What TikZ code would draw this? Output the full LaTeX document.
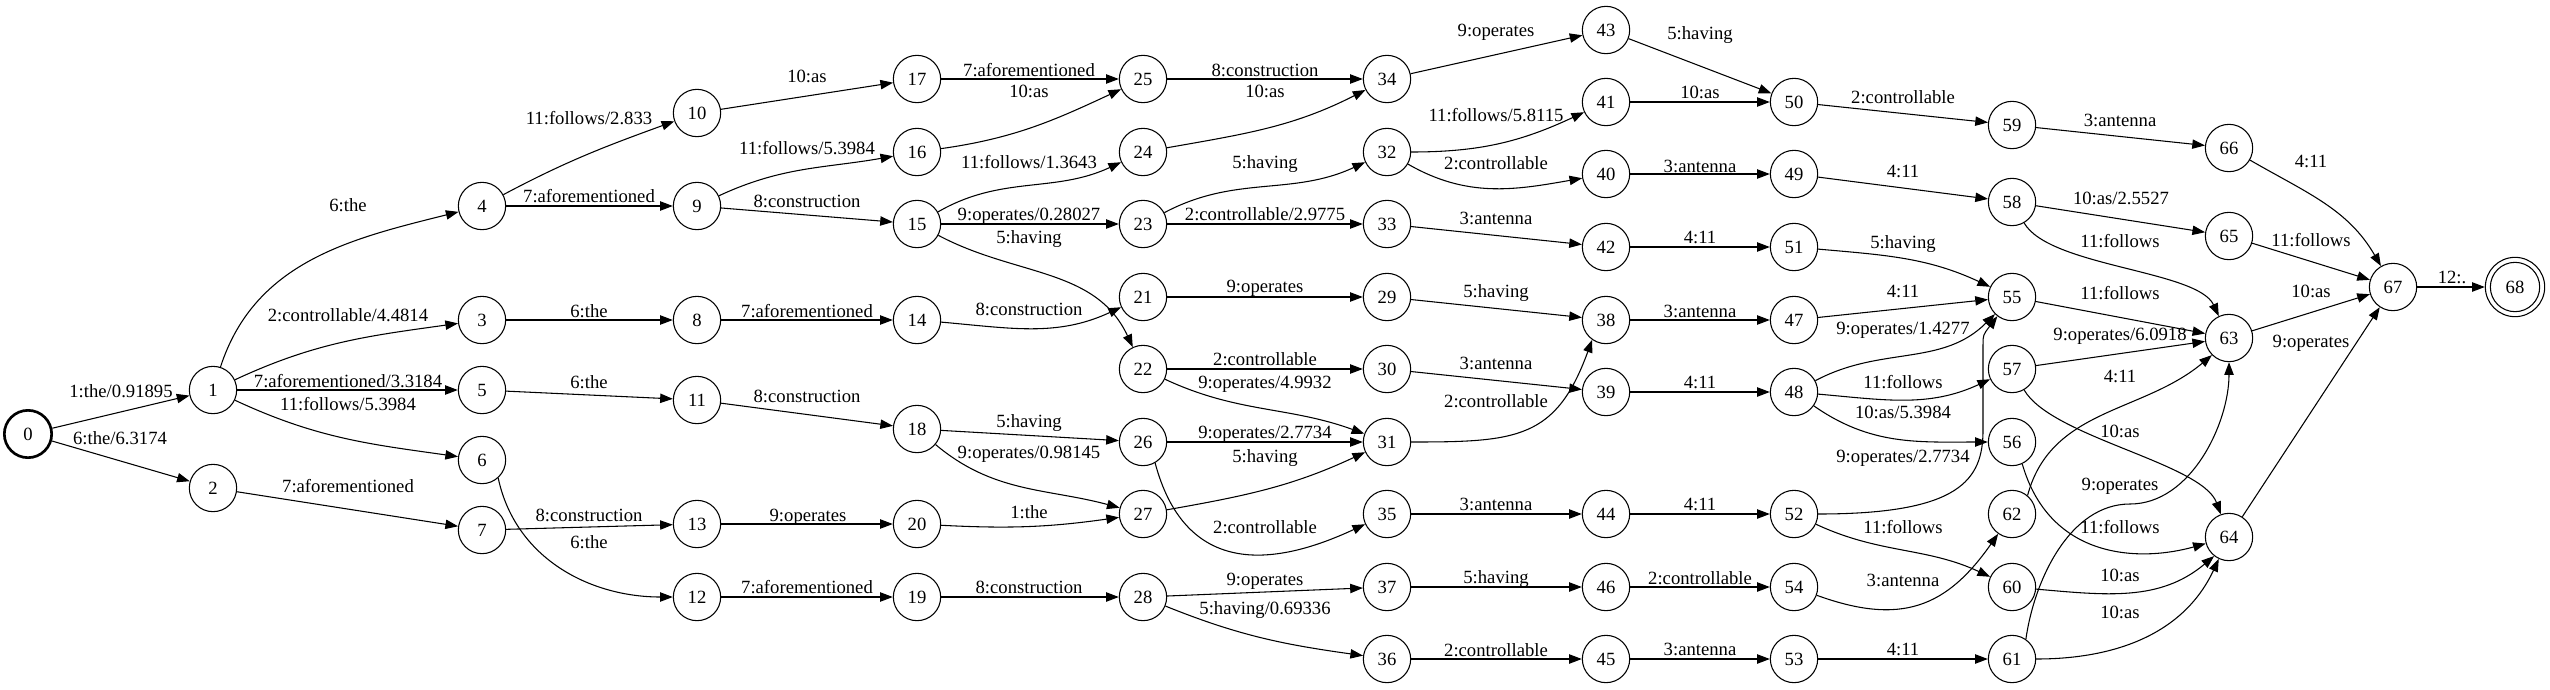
\documentclass[tikz,border=0pt]{standalone}
\usepackage{fontspec}
\setmainfont{Liberation Serif}
\usetikzlibrary{arrows.meta}
\newcommand\fs{\fontsize{14pt}{16pt}\selectfont}
\begin{document}
\begin{tikzpicture}[x=0.75pt,y=-0.75pt,
  st/.style={circle,draw,line width=0.8pt,minimum size=35.5pt,inner sep=0pt,font=\fs},
  ar/.style={-{Triangle[length=9.5pt,width=7pt]},line width=0.8pt},
  lab/.style={anchor=base,inner sep=0pt,font=\fs}]
\fill[white] (0,0) rectangle (2550,689);
\useasboundingbox (0,0) rectangle (2550,689);
% states
\foreach \n/\x/\y in {1/213/390,2/213/488,3/482/320,4/482/206,5/482/390,6/482/460,7/482/530,
  8/697/320,9/697/206,10/697/113,11/697/400,12/697/597,13/697/524,
  14/917/320,15/917/224,16/917/152,17/917/79,18/917/429,19/917/597,20/917/524,
  21/1143/297,22/1143/369,23/1143/224,24/1143/152,25/1143/79,26/1143/442,27/1143/514,28/1143/597,
  29/1387/297,30/1387/369,31/1387/442,32/1387/152,33/1387/224,34/1387/79,35/1387/514,36/1387/659,37/1387/587,
  38/1606/320,39/1606/392,40/1606/174,41/1606/102,42/1606/247,43/1606/30,44/1606/514,45/1606/659,46/1606/587,
  47/1794/320,48/1794/392,49/1794/174,50/1794/102,51/1794/247,52/1794/514,53/1794/659,54/1794/587,
  55/2012/297,56/2012/442,57/2012/369,58/2012/202,59/2012/125,60/2012/587,61/2012/659,62/2012/514,
  63/2229/338,64/2229/537,65/2229/236,66/2229/148,67/2393/287}
  \node[st] (n\n) at (\x,\y) {\n};
\node[st,line width=2pt] (n0) at (28,434) {0};
\node[st,minimum size=44.5pt] (n68) at (2515,287) {68};
\draw[line width=0.8pt] (n68.center) circle[radius=18.5pt];
% straight arcs
\foreach \a/\b in {0/1,0/2,1/5,2/7,4/9,3/8,5/11,7/13,10/17,9/15,8/14,11/18,13/20,12/19,
  17/25,15/23,18/26,19/28,25/34,23/33,21/29,22/30,26/31,28/37,
  34/43,33/42,29/38,30/39,35/44,37/46,36/45,
  43/50,41/50,40/49,42/51,38/47,39/48,44/52,46/54,45/53,
  50/59,49/58,47/55,53/61,59/66,58/65,55/63,57/63,65/67,63/67,64/67,67/68}
  \draw[ar] (n\a) -- (n\b);
% curved arcs
\draw[ar] (n1) to[out=72,in=194] (n4);
\draw[ar] (n1) to[out=25,in=188] (n3);
\draw[ar] (n1) to[out=-25,in=172] (n6);
\draw[ar] (n4) to[out=28,in=200] (n10);
\draw[ar] (n6.-48) to[out=-78,in=180] (n12);
\draw[ar] (n9) to[out=25,in=190] (n16);
\draw[ar] (n16) to[out=8,in=205] (n25);
\draw[ar] (n15) to[out=30,in=205] (n24);
\draw[ar] (n15) to[out=-28,in=115] (n22);
\draw[ar] (n14) to[out=-5,in=205] (n21);
\draw[ar] (n18) to[out=-40,in=165] (n27);
\draw[ar] (n20) to[out=-3,in=188] (n27);
\draw[ar] (n24) to[out=10,in=207] (n34);
\draw[ar] (n23) to[out=28,in=205] (n32);
\draw[ar] (n22) to[out=-25,in=160] (n31);
\draw[ar] (n26.-60) to[out=-75,in=205,looseness=1.3] (n35);
\draw[ar] (n27) to[out=10,in=205] (n31);
\draw[ar] (n28) to[out=-22,in=172] (n36);
\draw[ar] (n32) to[out=0,in=205] (n41);
\draw[ar] (n32) to[out=-30,in=190] (n40);
\draw[ar] (n31) to[out=0,in=-110,looseness=1.3] (n38.-125);
\draw[ar] (n51) to[out=-5,in=155] (n55);
\draw[ar] (n48) to[out=28,in=-135] (n55);
\draw[ar] (n48) to[out=-5,in=205] (n57);
\draw[ar] (n48) to[out=-35,in=180] (n56);
\draw[ar] (n52) .. controls (1960,514) and (1983,480) .. (1983,430) -- (1983,345) .. controls (1983,335) .. (n55);
\draw[ar] (n52) to[out=-25,in=155] (n60);
\draw[ar] (n54) to[out=-20,in=-125,looseness=1.2] (n62);
\draw[ar] (n58) to[out=-60,in=115,looseness=0.6] (n63);
\draw[ar] (n57) to[out=-60,in=110,looseness=0.6] (n64);
\draw[ar] (n62.50) to[out=75,in=-140] (n63.-135);
\draw[ar] (n61.55) to[out=82,in=180,looseness=0.9] (2130,504) to[out=0,in=-90,looseness=0.9] (n63);
\draw[ar] (n61) to[out=0,in=-115] (n64);
\draw[ar] (n60) to[out=-5,in=-140] (n64.-128);
\draw[ar] (n56.-65) .. controls (2050,560) and (2140,562) .. (n64);
\draw[ar] (n66) to[out=-30,in=120] (n67);
% arc labels
\foreach \i/\x/\y/\t in {
  1/121/397/{1:the/0.91895},2/120/444/{6:the/6.3174},3/348/211/{6:the},
  4/348/321/{2:controllable/4.4814},5/348/387/{7:aforementioned/3.3184},
  6/348/410/{11:follows/5.3984},7/348/492/{7:aforementioned},
  8/589/124/{11:follows/2.833},9/589/202/{7:aforementioned},10/589/317/{6:the},
  11/589/388/{6:the},12/589/521/{8:construction},13/589/548/{6:the},
  14/807/82/{10:as},15/807/154/{11:follows/5.3984},16/807/207/{8:construction},
  17/807/317/{7:aforementioned},18/807/402/{8:construction},19/808/521/{9:operates},
  20/807/593/{7:aforementioned},
  21/1029/76/{7:aforementioned},22/1029/97/{10:as},23/1029/168/{11:follows/1.3643},
  24/1029/220/{9:operates/0.28027},25/1029/243/{5:having},26/1029/315/{8:construction},
  27/1029/427/{5:having},28/1029/458/{9:operates/0.98145},29/1029/518/{1:the},
  30/1029/593/{8:construction},
  31/1265/76/{8:construction},32/1265/97/{10:as},33/1265/168/{5:having},
  34/1265/220/{2:controllable/2.9775},35/1265/292/{9:operates},36/1265/365/{2:controllable},
  37/1265/388/{9:operates/4.9932},38/1265/438/{9:operates/2.7734},39/1265/462/{5:having},
  40/1265/533/{2:controllable},41/1265/585/{9:operates},42/1265/614/{5:having/0.69336},
  43/1496/36/{9:operates},44/1496/121/{11:follows/5.8115},45/1496/169/{2:controllable},
  46/1496/224/{3:antenna},47/1496/297/{5:having},48/1496/369/{3:antenna},
  49/1496/407/{2:controllable},50/1496/510/{3:antenna},51/1496/583/{5:having},
  52/1496/656/{2:controllable},
  53/1700/39/{5:having},54/1700/98/{10:as},55/1700/172/{3:antenna},56/1700/243/{4:11},
  57/1700/317/{3:antenna},58/1700/388/{4:11},59/1700/510/{4:11},60/1700/584/{2:controllable},
  61/1700/655/{3:antenna},
  62/1903/103/{2:controllable},63/1903/177/{4:11},64/1903/248/{5:having},65/1903/297/{4:11},
  66/1903/334/{9:operates/1.4277},67/1903/388/{11:follows},68/1903/418/{10:as/5.3984},
  69/1903/462/{9:operates/2.7734},70/1903/533/{11:follows},71/1903/586/{3:antenna},
  72/1903/655/{4:11},
  73/2120/126/{3:antenna},74/2121/204/{10:as/2.5527},75/2120/247/{11:follows},
  76/2120/299/{11:follows},77/2120/340/{9:operates/6.0918},78/2120/382/{4:11},
  79/2120/437/{10:as},80/2120/490/{9:operates},81/2120/533/{11:follows},
  82/2120/581/{10:as},83/2120/618/{10:as},
  84/2311/167/{4:11},85/2311/246/{11:follows},86/2311/297/{10:as},87/2311/347/{9:operates},
  88/2452/283/{12:.}}
  \node[lab] (l\i) at (\x,\y) {\t};
\end{tikzpicture}
\end{document}
